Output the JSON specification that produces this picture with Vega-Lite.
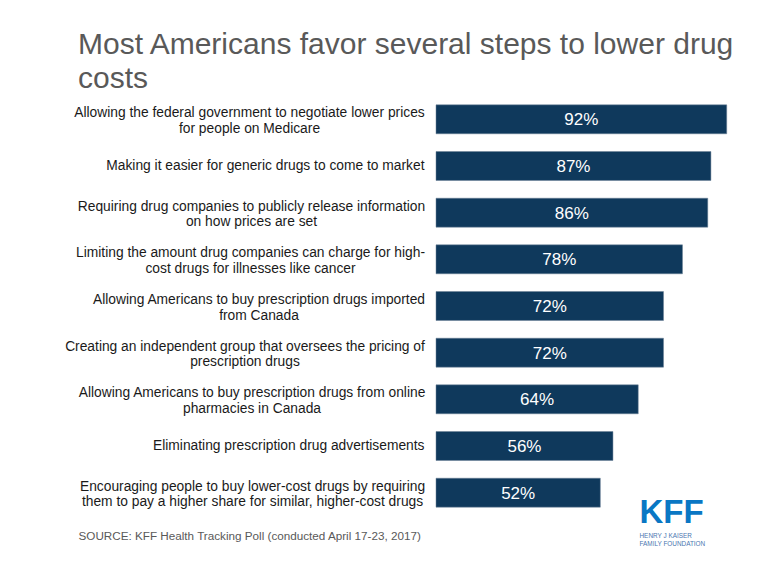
{
  "$schema": "https://vega.github.io/schema/vega-lite/v6.json",
  "width": 316,
  "height": 420,
  "autosize": {"type": "none"},
  "padding": {"left": 436, "top": 96, "right": 16, "bottom": 60},
  "background": "white",
  "config": {"view": {"stroke": null}, "font": "Liberation Sans"},
  "title": {
    "text": ["Most Americans favor several steps to lower drug", "costs"],
    "anchor": "start",
    "frame": "group",
    "dx": -358,
    "offset": 2,
    "fontSize": 30,
    "font": "Liberation Sans",
    "fontWeight": "normal",
    "color": "#595959",
    "lineHeight": 34
  },
  "data": {
    "values": [
      {"item": "Allowing the federal government to negotiate lower prices|for people on Medicare", "value": 0.92},
      {"item": "Making it easier for generic drugs to come to market", "value": 0.87},
      {"item": "Requiring drug companies to publicly release information|on how prices are set", "value": 0.86},
      {"item": "Limiting the amount drug companies can charge for high-|cost drugs for illnesses like cancer", "value": 0.78},
      {"item": "Allowing Americans to buy prescription drugs imported|from Canada", "value": 0.72},
      {"item": "Creating an independent group that oversees the pricing of|prescription drugs", "value": 0.72},
      {"item": "Allowing Americans to buy prescription drugs from online|pharmacies in Canada", "value": 0.64},
      {"item": "Eliminating prescription drug advertisements", "value": 0.56},
      {"item": "Encouraging people to buy lower-cost drugs by requiring|them to pay a higher share for similar, higher-cost drugs", "value": 0.52}
    ]
  },
  "layer": [
    {
      "mark": {"type": "bar", "color": "#0f395c", "stroke": "#6d8096", "strokeWidth": 0.5},
      "encoding": {
        "y": {
          "field": "item",
          "type": "nominal",
          "sort": null,
          "scale": {"paddingInner": 0.38, "paddingOuter": 0.19},
          "axis": {
            "title": null,
            "domain": false,
            "ticks": false,
            "grid": false,
            "labelFontSize": 13.8,
            "labelFont": "Liberation Sans",
            "labelColor": "#1a1a1a",
            "labelExpr": "split(datum.label, '|')",
            "labelLineHeight": 15.5,
            "labelLimit": 1000,
            "labelBaseline": "middle",
            "labelOffset": {"condition": {"test": "indexof(datum.value, '|') >= 0", "value": -6}, "value": 0},
            "labelAlign": {"condition": {"test": "indexof(datum.value, '|') >= 0", "value": "center"}, "value": "right"},
            "labelPadding": {
              "condition": [
                {"test": "indexof(datum.value, 'Allowing the federal') === 0", "value": 187},
                {"test": "indexof(datum.value, 'Requiring drug') === 0", "value": 185},
                {"test": "indexof(datum.value, 'Limiting the amount') === 0", "value": 186},
                {"test": "indexof(datum.value, 'Allowing Americans to buy prescription drugs imported') === 0", "value": 177.5},
                {"test": "indexof(datum.value, 'Creating an independent') === 0", "value": 191.5},
                {"test": "indexof(datum.value, 'Allowing Americans to buy prescription drugs from') === 0", "value": 184.5},
                {"test": "indexof(datum.value, 'Encouraging people') === 0", "value": 184}
              ],
              "value": 12
            }
          }
        },
        "x": {
          "field": "value",
          "type": "quantitative",
          "scale": {"domain": [0, 1]},
          "axis": {
            "labels": false,
            "ticks": false,
            "domain": false,
            "grid": false,
            "title": "SOURCE: KFF Health Tracking Poll (conducted April 17-23, 2017)",
            "titleX": -358,
            "titleY": 19,
            "titleAlign": "left",
            "titleAnchor": null,
            "titleBaseline": "middle",
            "titleFontSize": 11.7,
            "titleFontWeight": "normal",
            "titleColor": "#595959",
            "titleFont": "Liberation Sans"
          }
        }
      }
    },
    {
      "mark": {"type": "text", "color": "white", "fontSize": 17, "font": "Liberation Sans", "baseline": "middle", "dy": 1},
      "encoding": {
        "y": {
          "field": "item",
          "type": "nominal",
          "sort": null,
          "axis": {
            "orient": "right",
            "labels": false,
            "ticks": false,
            "domain": false,
            "grid": false,
            "title": "KFF",
            "titleAngle": 0,
            "titleX": -113,
            "titleY": 426,
            "titleAlign": "left",
            "titleBaseline": "alphabetic",
            "titleFontSize": 33,
            "titleFontWeight": "bold",
            "titleColor": "#0a77c4",
            "titleFont": "Liberation Sans"
          }
        },
        "x": {
          "field": "value",
          "type": "quantitative",
          "scale": {"domain": [0, 2]},
          "axis": {
            "orient": "top",
            "labels": false,
            "ticks": false,
            "domain": false,
            "grid": false,
            "title": ["HENRY J KAISER", "FAMILY FOUNDATION"],
            "titleX": 203,
            "titleY": 439,
            "titleAlign": "left",
            "titleAnchor": null,
            "titleBaseline": "middle",
            "titleLineHeight": 8.5,
            "titleFontSize": 6.4,
            "titleFontWeight": "normal",
            "titleColor": "#4a76b0",
            "titleFont": "Liberation Sans"
          }
        },
        "text": {"field": "value", "type": "quantitative", "format": ".0%"}
      }
    }
  ],
  "resolve": {"scale": {"x": "independent"}, "axis": {"x": "independent", "y": "independent"}}
}
